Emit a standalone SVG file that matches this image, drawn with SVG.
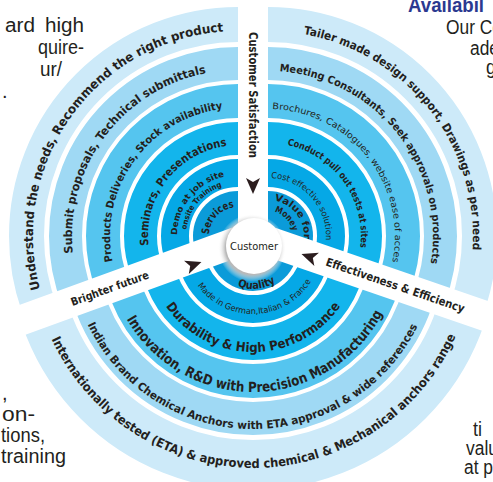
<svg xmlns="http://www.w3.org/2000/svg" width="493" height="482" viewBox="0 0 493 482">
<style>
.b1{fill:none;stroke:#cdeaf9}
.b2{fill:none;stroke:#9fd9f4}
.b3{fill:none;stroke:#55c5ef}
.b4{fill:none;stroke:#13b5ec}
.b5{fill:none;stroke:#05a8e6}
.b6{fill:#0b9bd9}
.t{font-family:"DejaVu Sans","Noto Sans",sans-serif;fill:#231f20;font-weight:bold}
.tn{font-family:"DejaVu Sans","Noto Sans",sans-serif;fill:#231f20}
.pg{font-family:"Liberation Sans",Arial,sans-serif;font-size:20px;fill:#231f20}
.arr{fill:#2b1d1e}
</style>
<defs>
<clipPath id="cTL"><polygon points="238,225.5 238,-10 -10,-10 -10,315.7"/></clipPath>
<clipPath id="cTR"><polygon points="268,225.3 268,-10 503,-10 503,306.2"/></clipPath>
<clipPath id="cB"><polygon points="253.1,251.9 -10,347.6 -10,500 503,500 503,338"/></clipPath>
<radialGradient id="sh"><stop offset="0.78" stop-color="#b9b9b9"/><stop offset="1" stop-color="#ffffff" stop-opacity="0"/></radialGradient>
<path id="arrow" d="M9,0 L-7,-7 L-3,0 L-7,7 Z"/>
<path id="pTL1" d="M40.0,289.1 A205,205 0 0 1 245.2,31.1"/>
<path id="pTL2" d="M72.9,253.3 A166,166 0 0 1 223.5,70.6"/>
<path id="pTL3" d="M112.6,261.5 A128,128 0 0 1 233.5,108.1"/>
<path id="pTL4" d="M148.5,245.4 A91,91 0 0 1 234.9,145.1"/>
<path id="pTL5a" d="M177.0,234.9 A61,61 0 0 1 232.7,175.2"/>
<path id="pTL5b" d="M186.4,229.7 A52,52 0 0 1 230.8,184.5"/>
<path id="pTL6" d="M209.0,234.5 A29,29 0 0 1 237.0,207.0"/>
<path id="pTR1" d="M303.6,34.1 A205,205 0 0 1 468.5,278.6"/>
<path id="pTR2" d="M279.5,71.4 A165,165 0 0 1 425.8,284.2"/>
<path id="pTR3" d="M272.4,109.1 A127,127 0 0 1 388.8,275.2"/>
<path id="pTR4" d="M287.3,145.0 A93,93 0 0 1 357.8,260.1"/>
<path id="pTR5" d="M271.0,178.1 A58,58 0 0 1 324.3,250.0"/>
<path id="pTR6a" d="M274.25,200.55 A36,36 0 0 1 302.8,245.3"/>
<path id="pTR6b" d="M274.5,211.9 A25,25 0 0 1 293,236"/>
<path id="pB1" d="M51.5,339.1 A222,222 0 0 0 464.1,314.6"/>
<path id="pB2" d="M87.5,324.2 A183,183 0 0 0 426.0,305.6"/>
<path id="pB3" d="M126.6,319.0 A146,146 0 0 0 389.3,298.3"/>
<path id="pB4" d="M165.8,306.2 A106,106 0 0 0 346.6,295.8"/>
<path id="pB5" d="M197.6,285.5 A68,68 0 0 0 314.6,274.7"/>
<path id="pB6" d="M237.6,286.1 A43,43 0 0 0 280.6,278.9"/>
</defs>
<rect width="493" height="482" fill="#ffffff"/>

<g id="page-text">
<text class="pg" y="32"><tspan x="5" textLength="30" lengthAdjust="spacingAndGlyphs">ard</tspan><tspan x="45" textLength="39" lengthAdjust="spacingAndGlyphs">high</tspan></text>
<text class="pg" x="38" y="54" textLength="46" lengthAdjust="spacingAndGlyphs">quire-</text>
<text class="pg" x="40" y="76" textLength="22" lengthAdjust="spacingAndGlyphs">ur/</text>
<text class="pg" x="2" y="98">.</text>
<text class="pg" x="408" y="12" textLength="76" lengthAdjust="spacingAndGlyphs" style="font-weight:bold;fill:#2b3990">Availabil</text>
<text class="pg" x="446" y="34" textLength="56" lengthAdjust="spacingAndGlyphs">Our Ce</text>
<text class="pg" x="470" y="55" textLength="29" lengthAdjust="spacingAndGlyphs">ade</text>
<text class="pg" x="486" y="74" textLength="10" lengthAdjust="spacingAndGlyphs">g</text>
<text class="pg" x="2" y="400">,</text>
<text class="pg" x="2" y="421" textLength="33" lengthAdjust="spacingAndGlyphs">on-</text>
<text class="pg" x="1" y="442" textLength="44" lengthAdjust="spacingAndGlyphs">tions,</text>
<text class="pg" x="1" y="463" textLength="65" lengthAdjust="spacingAndGlyphs">training</text>
<text class="pg" x="473" y="436" textLength="9" lengthAdjust="spacingAndGlyphs">ti</text>
<text class="pg" x="466" y="455" textLength="32" lengthAdjust="spacingAndGlyphs">valu</text>
<text class="pg" x="464" y="474" textLength="29" lengthAdjust="spacingAndGlyphs">at p</text>
</g>

<g id="tl-1"><circle class="b1" cx="238" cy="236" r="211.5" stroke-width="35" clip-path="url(#cTL)"/>
<text class="t" font-size="12.5"><textPath href="#pTL1" textLength="361" lengthAdjust="spacingAndGlyphs">Understand the needs, Recommend the right product</textPath></text></g>
<g id="tl-2"><circle class="b2" cx="238" cy="236" r="172.5" stroke-width="33" clip-path="url(#cTL)"/>
<text class="t" font-size="11.5"><textPath href="#pTL2" textLength="246" lengthAdjust="spacingAndGlyphs">Submit proposals, Technical submittals</textPath></text></g>
<g id="tl-3"><circle class="b3" cx="238" cy="236" r="135" stroke-width="34" clip-path="url(#cTL)"/>
<text class="t" font-size="10.5"><textPath href="#pTL3" textLength="211" lengthAdjust="spacingAndGlyphs">Products Deliveries, Stock availability</textPath></text></g>
<g id="tl-4"><circle class="b4" cx="238" cy="236" r="97.5" stroke-width="33" clip-path="url(#cTL)"/>
<text class="t" font-size="11.5"><textPath href="#pTL4" textLength="140" lengthAdjust="spacingAndGlyphs">Seminars, Presentations</textPath></text></g>
<g id="tl-5"><circle class="b5" cx="238" cy="236" r="63" stroke-width="28" clip-path="url(#cTL)"/>
<text class="t" font-size="8.5"><textPath href="#pTL5a" textLength="81" lengthAdjust="spacingAndGlyphs">Demo at job site</textPath></text>
<text class="t" font-size="7.5"><textPath href="#pTL5b" textLength="59" lengthAdjust="spacingAndGlyphs">onsite Training</textPath></text></g>
<g id="tl-6"><circle class="b6" cx="238" cy="236" r="45" clip-path="url(#cTL)"/>
<text class="t" font-size="10.5"><textPath href="#pTL6" textLength="40" lengthAdjust="spacingAndGlyphs">Services</textPath></text></g>

<g id="tr-1"><circle class="b1" cx="268" cy="236" r="211.5" stroke-width="35" clip-path="url(#cTR)"/>
<text class="t" font-size="11.5"><textPath href="#pTR1" textLength="300" lengthAdjust="spacingAndGlyphs">Tailer made design support, Drawings as per need</textPath></text></g>
<g id="tr-2"><circle class="b2" cx="268" cy="236" r="172.5" stroke-width="33" clip-path="url(#cTR)"/>
<text class="t" font-size="10.5"><textPath href="#pTR2" textLength="275" lengthAdjust="spacingAndGlyphs">Meeting Consultants, Seek approvals on products</textPath></text></g>
<g id="tr-3"><circle class="b3" cx="268" cy="236" r="135" stroke-width="34" clip-path="url(#cTR)"/>
<text class="tn" font-size="9"><textPath href="#pTR3" textLength="221" lengthAdjust="spacingAndGlyphs">Brochures, Catalogues, website ease of acces</textPath></text></g>
<g id="tr-4"><circle class="b4" cx="268" cy="236" r="97.5" stroke-width="33" clip-path="url(#cTR)"/>
<text class="t" font-size="9.5"><textPath href="#pTR4" textLength="138" lengthAdjust="spacingAndGlyphs">Conduct pull out tests at sites</textPath></text></g>
<g id="tr-5"><circle class="b5" cx="268" cy="236" r="63" stroke-width="28" clip-path="url(#cTR)"/>
<text class="tn" font-size="8.5"><textPath href="#pTR5" textLength="92" lengthAdjust="spacingAndGlyphs">Cost effective solution</textPath></text></g>
<g id="tr-6"><circle class="b6" cx="268" cy="236" r="45" clip-path="url(#cTR)"/>
<text class="t" font-size="9.5"><textPath href="#pTR6a" textLength="53" lengthAdjust="spacingAndGlyphs">Value for</textPath></text>
<text class="t" font-size="9"><textPath href="#pTR6b" textLength="27.5" lengthAdjust="spacingAndGlyphs">Money</textPath></text></g>

<g id="b-1"><circle class="b1" cx="253" cy="246" r="219" stroke-width="50" clip-path="url(#cB)"/>
<text class="t" font-size="12.5"><textPath href="#pB1" textLength="508" lengthAdjust="spacingAndGlyphs">Internationally tested (ETA) &amp; approved chemical &amp; Mechanical anchors range</textPath></text></g>
<g id="b-2"><circle class="b2" cx="253" cy="246" r="172.5" stroke-width="33" clip-path="url(#cB)"/>
<text class="t" font-size="11"><textPath href="#pB2" textLength="411" lengthAdjust="spacingAndGlyphs">Indian Brand Chemical Anchors with ETA approval &amp; wide references</textPath></text></g>
<g id="b-3"><circle class="b3" cx="253" cy="246" r="135" stroke-width="34" clip-path="url(#cB)"/>
<text class="t" font-size="14"><textPath href="#pB3" textLength="312" lengthAdjust="spacingAndGlyphs">Innovation, R&amp;D with Precision Manufacturing</textPath></text></g>
<g id="b-4"><circle class="b4" cx="253" cy="246" r="97.5" stroke-width="33" clip-path="url(#cB)"/>
<text class="t" font-size="13"><textPath href="#pB4" textLength="205" lengthAdjust="spacingAndGlyphs">Durability &amp; High Performance</textPath></text></g>
<g id="b-5"><circle class="b5" cx="253" cy="246" r="63" stroke-width="28" clip-path="url(#cB)"/>
<text class="tn" font-size="8.5"><textPath href="#pB5" textLength="134" lengthAdjust="spacingAndGlyphs">Made in German,Italian &amp; France</textPath></text></g>
<g id="b-6"><circle class="b6" cx="253" cy="246" r="45" clip-path="url(#cB)"/>
<text class="t" font-size="11"><textPath href="#pB6" textLength="39.5" lengthAdjust="spacingAndGlyphs">Quality</textPath></text></g>

<g id="customer">
<circle cx="252" cy="248" r="34" fill="url(#sh)"/>
<circle cx="254" cy="246" r="28" fill="#ffffff"/>
<text class="tn" x="254" y="250" font-size="11" text-anchor="middle" textLength="48" lengthAdjust="spacingAndGlyphs">Customer</text>
</g>

<g id="connectors">
<text class="t" font-size="11.5" transform="translate(249,95) rotate(90)" text-anchor="middle" textLength="126" lengthAdjust="spacingAndGlyphs">Customer Satisfaction</text>
<text class="t" font-size="11" transform="translate(111,292) rotate(-20)" text-anchor="middle" textLength="82" lengthAdjust="spacingAndGlyphs">Brighter future</text>
<text class="t" font-size="11.5" transform="translate(394,289) rotate(19)" text-anchor="middle" textLength="146" lengthAdjust="spacingAndGlyphs">Effectiveness &amp; Efficiency</text>
<use href="#arrow" class="arr" transform="translate(253,185) rotate(90)"/>
<use href="#arrow" class="arr" transform="translate(193,265) rotate(-20)"/>
<use href="#arrow" class="arr" transform="translate(310,257) rotate(199)"/>
</g>
</svg>
